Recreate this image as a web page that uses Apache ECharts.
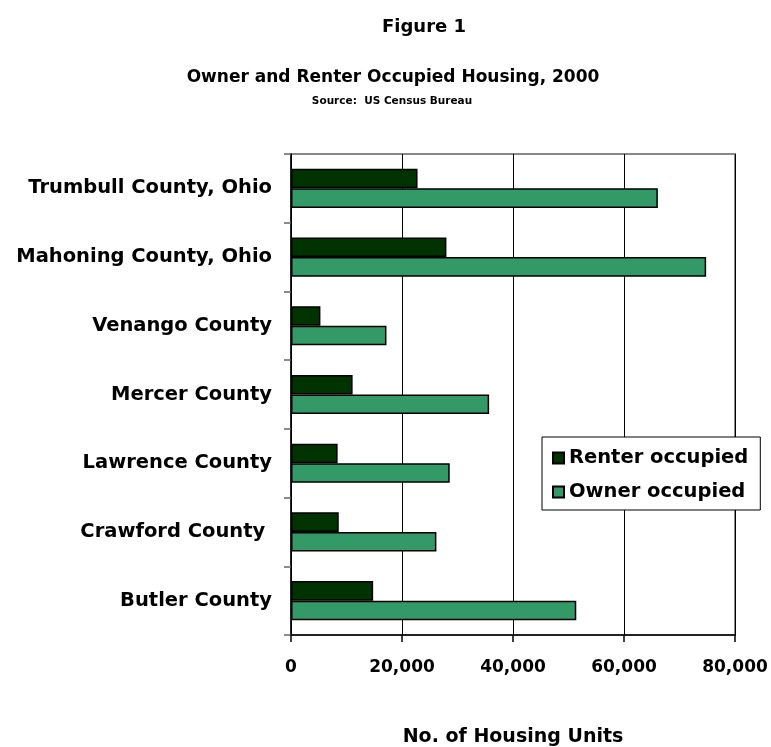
<!DOCTYPE html>
<html>
<head>
<meta charset="utf-8">
<script src="https://cdn.jsdelivr.net/npm/echarts@6/dist/echarts.min.js"></script>
<style>
  html, body { margin: 0; padding: 0; background: #fff; }
  #chart { width: 771px; height: 747px; }
</style>
</head>
<body>
<div id="chart"></div>
<script>
// Counties, listed top to bottom
const counties = [
  'Trumbull County, Ohio',
  'Mahoning County, Ohio',
  'Venango County',
  'Mercer County',
  'Lawrence County',
  'Crawford County ',
  'Butler County'
];
// Housing units by tenure, 2000
const renterOccupied = [22800, 28000, 5300, 11100, 8400, 8600, 14800];
const ownerOccupied  = [66100, 74800, 17200, 35700, 28600, 26200, 51400];
const xTicks = [0, 20000, 40000, 60000, 80000];

const FONT = '"DejaVu Sans", sans-serif';
const chart = echarts.init(document.getElementById('chart'), null, { renderer: 'canvas' });

chart.setOption({
  backgroundColor: '#ffffff',
  animation: false,
  title: [
    { text: 'Figure 1', left: 419, top: 13, textAlign: 'center',
      textStyle: { fontFamily: FONT, fontWeight: 'bold', fontSize: 18, color: '#000' } },
    { text: 'Owner and Renter Occupied Housing, 2000', left: 388, top: 64, textAlign: 'center',
      textStyle: { fontFamily: FONT, fontWeight: 'bold', fontSize: 17, color: '#000' } },
    { text: 'Source:  US Census Bureau', left: 387, top: 91, textAlign: 'center',
      textStyle: { fontFamily: FONT, fontWeight: 'bold', fontSize: 10.5, color: '#000' } }
  ],
  legend: {
    orient: 'vertical',
    left: 542, top: 437,
    padding: [11, 12, 8, 10],
    itemGap: 14,
    itemWidth: 11, itemHeight: 11,
    borderColor: '#000', borderWidth: 1,
    backgroundColor: '#fff',
    icon: 'rect',
    textStyle: { fontFamily: FONT, fontWeight: 'bold', fontSize: 19.5, color: '#000' },
    data: ['Renter occupied', 'Owner occupied']
  },
  grid: {
    left: 291, width: 444, top: 154, height: 481,
    outerBoundsMode: 'none',
    containLabel: false,
    show: true, borderColor: '#888', borderWidth: 2, backgroundColor: 'transparent'
  },
  xAxis: {
    type: 'value',
    min: xTicks[0], max: xTicks[xTicks.length - 1], interval: 20000,
    name: 'No. of Housing Units',
    nameLocation: 'middle',
    nameGap: 93,
    nameTextStyle: { fontFamily: FONT, fontWeight: 'bold', fontSize: 19, color: '#000' },
    axisLine: { show: true, lineStyle: { color: '#000', width: 1.5 } },
    axisTick: { show: true, length: 7, lineStyle: { color: '#000', width: 1.5 } },
    axisLabel: {
      margin: 24,
      fontFamily: FONT, fontWeight: 'bold', fontSize: 17, color: '#000',
      formatter: v => v.toLocaleString('en-US')
    },
    splitLine: { show: true, lineStyle: { color: '#000', width: 1 } }
  },
  yAxis: {
    type: 'category',
    inverse: true,
    data: counties,
    axisLine: { show: true, lineStyle: { color: '#000', width: 1.5 } },
    axisTick: { show: true, length: 7, lineStyle: { color: '#666', width: 1.5 } },
    axisLabel: {
      margin: 19,
      fontFamily: FONT, fontWeight: 'bold', fontSize: 19.5, color: '#000'
    },
    splitLine: { show: false }
  },
  series: [
    {
      name: 'Renter occupied', type: 'bar', data: renterOccupied,
      barGap: '0%', barCategoryGap: '43%',
      itemStyle: { color: '#003300', borderColor: '#000', borderWidth: 1.5 }
    },
    {
      name: 'Owner occupied', type: 'bar', data: ownerOccupied,
      barGap: '0%', barCategoryGap: '43%',
      itemStyle: { color: '#339966', borderColor: '#000', borderWidth: 1.5 }
    }
  ]
});
</script>
</body>
</html>
